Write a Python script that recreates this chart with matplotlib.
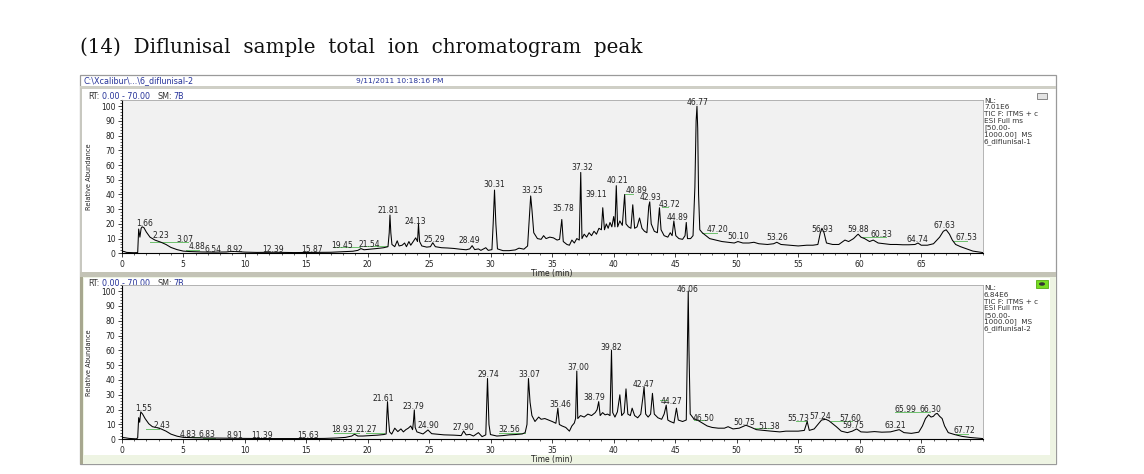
import matplotlib
matplotlib.use("Agg")
import matplotlib.pyplot as plt
import matplotlib.patches as patches
from matplotlib.ticker import MultipleLocator

W, H = 1144, 474

# ---- top chromatogram (6_diflunisal-1), retention time (min) / relative abundance (%)
top_time = [
    0.0, 0.2, 0.4, 1.0, 1.30, 1.38, 1.48, 1.58, 1.66, 1.80, 2.0, 2.3, 2.7, 3.2, 3.6, 4.0,
    4.5, 5.0, 5.5, 6.5, 7.5, 8.5, 8.9, 9.3, 10.0, 11.0, 12.4, 14.0, 15.9, 17.0, 18.0, 18.8,
    19.2, 19.45, 19.7, 20.2, 20.8, 21.3, 21.65, 21.75, 21.81, 21.88, 21.97, 22.2, 22.4, 22.55,
    22.8, 23.0, 23.15, 23.35, 23.5, 23.7, 23.9, 24.05, 24.13, 24.22, 24.4, 24.8, 25.1, 25.29,
    25.5, 26.0, 26.5, 27.0, 27.5, 28.0, 28.3, 28.49, 28.7, 29.0, 29.2, 29.6, 29.8, 30.1, 30.2,
    30.31, 30.42, 30.55, 31.0, 31.5, 32.0, 32.3, 32.7, 33.0, 33.15, 33.25, 33.35, 33.5, 33.8,
    34.1, 34.3, 34.5, 34.8, 35.1, 35.4, 35.6, 35.78, 35.9, 36.2, 36.4, 36.6, 36.8, 37.0, 37.2,
    37.32, 37.42, 37.6, 37.8, 38.0, 38.2, 38.4, 38.6, 38.8, 39.0, 39.11, 39.25, 39.4, 39.55,
    39.7, 39.85, 40.0, 40.1, 40.21, 40.32, 40.5, 40.7, 40.89, 41.0, 41.2, 41.4, 41.55, 41.7,
    41.9, 42.1, 42.3, 42.5, 42.7, 42.85, 42.93, 43.05, 43.3, 43.55, 43.72, 43.85, 44.1, 44.4,
    44.6, 44.75, 44.89, 45.05, 45.3, 45.6, 45.8, 45.9, 46.0, 46.25, 46.45, 46.6, 46.7, 46.77,
    46.83, 46.9, 47.0, 47.2, 47.5, 47.8, 48.3, 48.8, 49.3, 49.8, 50.1, 50.5, 51.0, 51.4, 51.8,
    52.5, 53.0, 53.26, 53.6, 54.3, 55.0, 55.7, 56.2, 56.6, 56.8, 56.93, 57.1, 57.3, 57.8, 58.3,
    58.8, 59.1, 59.5, 59.8, 59.88, 60.1, 60.4, 60.8, 61.1, 61.5, 62.0, 62.5, 63.0, 63.5, 64.0,
    64.5, 64.74, 65.0, 65.5, 66.0, 66.5, 66.8, 67.03, 67.3, 67.53, 67.8, 68.2, 68.7, 69.2, 70.0,
]
top_abund = [
    1.5, 1.2, 0.6, 0.4, 0.5, 16.5, 11, 17, 18, 17.5, 14.5, 11, 9, 7.5, 6, 4,
    2.5, 1.5, 1.2, 0.9, 0.8, 0.9, 1.3, 1.2, 0.8, 0.6, 0.7, 0.5, 0.6, 0.7, 1.1, 1.4,
    2, 3.2, 2.4, 2.8, 3.3, 3.8, 4.5, 14, 26, 14, 6, 4.5, 8.5, 5,
    5.5, 7, 4.5, 8, 5.5, 8, 10.5, 8, 20, 8, 5, 4.2, 4.5, 7.2,
    4.5, 3.8, 3.6, 3.3, 2.8, 2.4, 3, 5.2, 2.5, 3, 2, 3.8, 2, 2.5, 20,
    43, 20, 3, 1.8, 1.8, 2.3, 3.5, 2.8, 5, 25, 39, 30, 14, 10,
    9.5, 12, 10, 11, 10.5, 9, 9.5, 23, 8, 6, 5.5, 9, 7, 10, 9,
    55, 10, 13, 11, 14, 12, 15, 13, 17, 16, 31, 16, 20, 17,
    21, 18, 25, 18, 46, 18, 22, 19, 40, 20, 18, 17, 33, 17,
    18, 24, 17, 15, 14, 32, 35, 20, 15, 14, 31, 16, 12, 11,
    14, 12, 22, 12, 10, 9.5, 12, 21, 10, 10, 12, 45, 90, 100,
    85, 40, 16, 14, 12, 10, 9, 8, 7.5, 7, 8, 7, 7, 7.5, 6.5,
    6, 6.5, 7.5, 6, 5.5, 5, 5.5, 5.5, 6, 14, 17, 14, 7, 6, 6,
    9, 8, 10, 12.5, 13, 11, 10, 8, 9, 7, 6.5, 6, 6, 5.8, 5.8,
    6, 7, 5.5, 5.5, 6.5, 11, 15, 16, 13, 9, 6, 4.5, 3, 1.5, 0.5,
]
top_peak_text = [
    "1.66", "2.23", "3.07", "4.88", "6.54", "8.92", "12.39", "15.87", "19.45", "21.54",
    "21.81", "24.13", "25.29", "28.49", "30.31", "33.25", "35.78", "37.32", "39.11", "40.21",
    "40.89", "42.93", "43.72", "44.89", "46.77", "47.20", "50.10", "53.26", "56.93", "59.88",
    "60.33", "64.74", "67.63", "67.53",
]
top_peak_pos = [
    (1.9, 20.4), (3.2, 11.8), (5.1, 9.5), (6.1, 4.5), (7.4, 2.7), (9.2, 2.7), (12.3, 2.7),
    (15.45, 2.7), (17.9, 5.4), (20.1, 6.3), (21.67, 29), (23.85, 21.5), (25.4, 9.5),
    (28.3, 8.6), (30.28, 46.5), (33.36, 42.4), (35.9, 30.6), (37.46, 58.2), (38.54, 40.3),
    (40.3, 49.4), (41.87, 42.6), (43.0, 37.8), (44.57, 33.3), (45.17, 24.5), (46.85, 102.4),
    (48.4, 16.3), (50.15, 11.3), (53.33, 10.6), (56.95, 15.9), (59.88, 16.3), (61.79, 13.1),
    (64.72, 9.5), (66.85, 18.6), (68.64, 10.6),
]
top_green = [
    (2.3, 5.4, 8.0), (5.2, 6.3, 2.5), (17.2, 19.4, 4.5), (19.6, 21.6, 5.0),
    (40.9, 41.6, 40.0), (43.9, 44.4, 31.5), (47.2, 48.4, 13.7), (60.3, 62.1, 11.0),
    (67.6, 68.7, 8.7),
]
top_info = ["NL:", "7.01E6", "TIC F: ITMS + c", "ESI Full ms", "[50.00-",
            "1000.00]  MS", "6_diflunisal-1"]

# ---- bottom chromatogram (6_diflunisal-2)
bot_time = [
    0.0, 0.3, 0.6, 1.2, 1.30, 1.38, 1.46, 1.55, 1.7, 1.9, 2.2, 2.5, 2.9, 3.2, 3.6, 4.0,
    4.5, 5.0, 6.0, 7.0, 8.0, 9.0, 10.0, 12.0, 15.0, 16.5, 17.5, 18.2, 18.7, 18.93, 19.2,
    19.6, 20.2, 20.8, 21.3, 21.5, 21.55, 21.61, 21.68, 21.78, 21.95, 22.2, 22.45, 22.7,
    22.9, 23.1, 23.3, 23.5, 23.65, 23.72, 23.79, 23.86, 24.0, 24.5, 24.9, 25.2, 25.6, 26.2,
    27.0, 27.6, 27.8, 28.0, 28.3, 28.6, 29.0, 29.3, 29.6, 29.74, 29.86, 29.98, 30.5, 31.0,
    31.5, 32.0, 32.56, 32.8, 32.95, 33.07, 33.2, 33.35, 33.6, 33.9, 34.1, 34.4, 34.7, 35.0,
    35.3, 35.46, 35.58, 35.8, 36.1, 36.4, 36.6, 36.8, 36.9, 37.0, 37.08, 37.3, 37.6, 37.9,
    38.2, 38.5, 38.65, 38.78, 38.9, 39.1, 39.3, 39.5, 39.7, 39.82, 39.92, 40.1, 40.3, 40.5,
    40.65, 40.85, 41.0, 41.15, 41.35, 41.5, 41.7, 41.95, 42.2, 42.4, 42.47, 42.6, 42.8,
    43.0, 43.15, 43.3, 43.6, 43.9, 44.1, 44.27, 44.4, 44.6, 44.9, 45.1, 45.25, 45.6, 45.9,
    46.0, 46.06, 46.12, 46.22, 46.5, 46.8, 47.2, 47.6, 48.0, 48.5, 49.0, 49.3, 49.7, 50.2,
    50.75, 51.2, 51.6, 52.2, 52.8, 53.5, 54.0, 54.5, 55.0, 55.5, 55.73, 55.9, 56.3, 56.6,
    56.9, 57.24, 57.5, 57.8, 58.1, 58.5, 59.0, 59.4, 59.75, 60.1, 60.6, 61.2, 61.8, 62.5,
    63.21, 63.6, 64.2, 64.8, 65.1, 65.35, 65.6, 65.8, 65.99, 66.15, 66.3, 66.5, 66.7, 66.9,
    67.2, 67.72, 68.3, 69.0, 70.0,
]
bot_abund = [
    1.3, 1, 0.6, 0.3, 1, 14.6, 11.5, 18.5, 17, 14, 10.5, 8.5, 7.8, 7, 5.5, 3.5,
    2.1, 1.3, 1, 0.9, 0.8, 0.7, 0.6, 0.5, 0.5, 0.6, 0.9, 1.3, 2.2, 3.4, 2.2,
    2.2, 2.5, 2.8, 3.2, 3.6, 15, 25.4, 15, 5, 3.5, 7.5, 5.2, 7,
    5, 6.5, 7.5, 9, 6.5, 12, 19.8, 8, 5, 3.6, 6.3, 3.8, 3.5, 3,
    2.8, 2.5, 5.6, 3, 3.3, 2.2, 4.5, 1.8, 3, 41, 10, 3.2, 2.2, 2.5,
    3, 3.2, 3.6, 4.5, 10, 41, 25, 16, 12, 15, 13.5, 14, 13, 12,
    10.8, 21, 10, 9, 8, 5.5, 9, 11, 14, 46, 14, 16, 15, 17,
    16, 18, 20, 25.4, 16, 18, 16.5, 17, 16, 60, 18, 15, 18.5, 30,
    16, 18, 34, 17, 16, 21, 16, 14.5, 17, 30, 35.5, 17, 15,
    17, 31, 17, 14.5, 13.5, 17, 23, 13, 12, 11, 21, 13, 12, 13,
    70, 100, 60, 17, 14, 13, 11, 9, 8, 7.5, 7.5, 8.5, 7, 7.5,
    9.5, 8, 6.5, 6, 5.5, 5, 5.5, 5.5, 5.5, 6, 12, 6, 7, 10,
    13, 13.5, 12.5, 10.5, 8.5, 5.5, 4.5, 5.5, 7, 5, 4.8, 5.2, 4.8, 5,
    6.5, 4.5, 4, 4.8, 9, 14, 16.5, 15, 15.5, 17, 17.5, 15.5, 14, 9,
    4.5, 3.2, 2, 1.2, 0.5,
]
bot_peak_text = [
    "1.55", "2.43", "4.83", "6.83", "8.91", "11.39", "15.63", "18.93", "21.27", "21.61",
    "23.79", "24.90", "27.90", "29.74", "32.56", "33.07", "35.46", "37.00", "38.79", "39.82",
    "42.47", "44.27", "46.06", "46.50", "50.75", "51.38", "55.73", "57.24", "57.60", "59.75",
    "63.21", "65.99", "66.30", "67.72",
]
bot_peak_pos = [
    (1.76, 20.9), (3.3, 9.2), (5.42, 3.4), (6.91, 3.4), (9.21, 2.9), (11.38, 2.9),
    (15.17, 2.9), (17.89, 6.3), (19.92, 6.3), (21.27, 27.6), (23.71, 22), (24.93, 9.2),
    (27.77, 8.1), (29.85, 43.8), (31.55, 6.3), (33.15, 43.8), (35.7, 23.6), (37.1, 48.3),
    (38.4, 28.1), (39.82, 62), (42.41, 37.1), (44.67, 25.4), (46.02, 100.7), (47.27, 14.2),
    (50.6, 11.5), (52.63, 8.5), (54.97, 14.2), (56.81, 15.7), (59.21, 14.2), (59.49, 9),
    (62.87, 9.2), (63.72, 20.4), (65.78, 20.4), (68.52, 5.6),
]
bot_green = [
    (2.0, 3.0, 7.0), (5.3, 6.4, 1.5), (6.6, 7.6, 1.2), (17.3, 19.3, 4.5), (19.9, 21.3, 4.2),
    (30.7, 32.8, 4.0), (43.8, 44.3, 26.8), (46.5, 47.4, 13.0), (51.5, 52.9, 7.5),
    (54.8, 55.7, 12.5), (57.7, 59.4, 12.5), (62.9, 65.7, 18.3), (67.8, 68.8, 3.5),
]
bot_info = ["NL:", "6.84E6", "TIC F: ITMS + c", "ESI Full ms", "[50.00-",
            "1000.00]  MS", "6_diflunisal-2"]

TITLE = "(14)  Diflunisal  sample  total  ion  chromatogram  peak"
FILE_PATH = "C:\\Xcalibur\\...\\6_diflunisal-2"
TIMESTAMP = "9/11/2011 10:18:16 PM"

SMALL = 5.5
NAVY = "#27349a"


def rect_px(left, top, right, bottom):
    """Figure-fraction rectangle from pixel edges."""
    return [left / W, 1 - bottom / H, (right - left) / W, (bottom - top) / H]


def draw_chromatogram(ax, t, ab, peak_text, peak_pos, greens):
    ax.set_facecolor("#f1f1f1")
    ax.plot(t, ab, color="black", linewidth=0.75, zorder=3)
    for t0, t1, y in greens:
        ax.plot([t0, t1], [y, y], color="#6cc06c", linewidth=0.7, zorder=2)
    for s, (x, y) in zip(peak_text, peak_pos):
        ax.text(x, y, s, ha="center", va="center", fontsize=SMALL, color="#222222", zorder=4)

    ax.set_xlim(0, 70)
    ax.set_ylim(0, 104)
    ax.set_xticks(range(0, 70, 5))
    ax.xaxis.set_minor_locator(MultipleLocator(1))
    ax.set_yticks(range(0, 101, 10))
    ax.yaxis.set_minor_locator(MultipleLocator(2))
    ax.tick_params(which="major", direction="out", length=3, width=0.6,
                   labelsize=SMALL, colors="#222222", pad=1.5)
    ax.tick_params(which="minor", direction="out", length=1.6, width=0.5, colors="#222222")
    for side in ("left", "bottom"):
        ax.spines[side].set_color("black")
        ax.spines[side].set_linewidth(0.8)
    for side in ("top", "right"):
        ax.spines[side].set_color("#a8a8a8")
        ax.spines[side].set_linewidth(0.6)
    ax.set_xlabel("Time (min)", fontsize=SMALL, color="#222222", labelpad=0.5)
    ax.set_ylabel("Relative Abundance", fontsize=4.8, color="#222222")
    ax.yaxis.set_label_coords(-0.034, 0.5)


fig = plt.figure(figsize=(W / 100, H / 100), dpi=100, facecolor="white")

# background layer in pixel coordinates for the screenshot frame
bg = fig.add_axes([0, 0, 1, 1], zorder=0)
bg.set_xlim(0, W)
bg.set_ylim(H, 0)
bg.axis("off")

bg.text(80, 47, TITLE, fontsize=14.3, family="DejaVu Serif", va="center", ha="left",
        color="#111111")

# outer window frame
bg.add_patch(patches.Rectangle((80, 75), 976, 389, facecolor="white", edgecolor="#9a9a9a",
                               linewidth=0.9))
# header separator
bg.add_patch(patches.Rectangle((80, 86), 976, 2.5, facecolor="#cfcfc6", edgecolor="none"))
# separator between panels
bg.add_patch(patches.Rectangle((80, 272), 976, 4.5, facecolor="#c3c3b6", edgecolor="none"))
# bottom (active) panel with light green rim
bg.add_patch(patches.Rectangle((80, 277), 976, 187, facecolor="#eef4e3", edgecolor="none"))
bg.add_patch(patches.Rectangle((84, 278), 966, 177, facecolor="white", edgecolor="none"))
bg.add_patch(patches.Rectangle((80, 277), 3, 187, facecolor="#a7a78f", edgecolor="none"))
bg.add_patch(patches.Rectangle((80, 88), 2, 184, facecolor="#c8c8c0", edgecolor="none"))

bg.text(83, 80.5, FILE_PATH, fontsize=5.8, color=NAVY, va="center", ha="left")
bg.text(356, 80.5, TIMESTAMP, fontsize=5.4, color=NAVY, va="center", ha="left")

# panel icons
bg.add_patch(patches.Rectangle((1037, 93), 10, 6, facecolor="#e4e4e4", edgecolor="#777777",
                               linewidth=0.6))
bg.add_patch(patches.Rectangle((1036, 280), 12, 8, facecolor="#77dd22", edgecolor="#55aa11",
                               linewidth=0.6))
bg.add_patch(patches.Ellipse((1042, 284), 6, 3.5, facecolor="#333333", edgecolor="none"))

for top in (96, 283):
    bg.text(88, top, "RT:", fontsize=5.8, color="#333333", va="center", ha="left")
    bg.text(102, top, "0.00 - 70.00", fontsize=5.8, color=NAVY, va="center", ha="left")
    bg.text(157, top, "SM:", fontsize=5.8, color="#333333", va="center", ha="left")
    bg.text(173, top, "7B", fontsize=5.8, color=NAVY, va="center", ha="left")

for lines, first in ((top_info, 100.5), (bot_info, 288)):
    for i, line in enumerate(lines):
        bg.text(984, first + i * 6.8, line, fontsize=5.2, color="#333333", va="center",
                ha="left")

ax_top = fig.add_axes(rect_px(121.7, 100.4, 982.7, 253.3), zorder=2)
draw_chromatogram(ax_top, top_time, top_abund, top_peak_text, top_peak_pos, top_green)

ax_bot = fig.add_axes(rect_px(121.7, 285.1, 982.7, 439.3), zorder=2)
draw_chromatogram(ax_bot, bot_time, bot_abund, bot_peak_text, bot_peak_pos, bot_green)

fig.savefig("out.png", dpi=100, facecolor="white")
